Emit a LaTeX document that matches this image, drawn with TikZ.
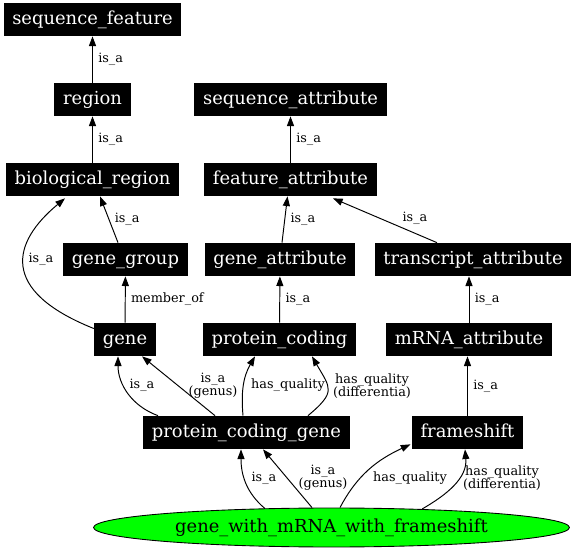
\documentclass[tikz,border=0pt]{standalone}
\usepackage{fontspec}
\setmainfont{DejaVu Serif}
\usepackage{tikz}
\usetikzlibrary{arrows.meta,positioning,calc,shapes.geometric}
\tikzset{
  % Black term box
  tbox/.style={rectangle,fill=black,text=white,
    inner xsep=5pt,inner ysep=0pt,minimum height=0.66cm,
    text height=7.4pt,text depth=2.2pt,font=\fontsize{10.2}{12}\selectfont},
  % Query term (green ellipse)
  qbox/.style={ellipse,draw=black,fill=green,line width=0.5pt,
    minimum width=9.52cm,minimum height=0.78cm,inner sep=0pt,
    font=\fontsize{10.2}{12}\selectfont},
  % Arrows
  arr/.style={-{Triangle[length=5.5pt,width=4pt]},line width=0.55pt,black},
  lbl/.style={font=\fontsize{7.3}{7.6}\selectfont,align=center,inner sep=1pt},
}
\begin{document}
\begin{tikzpicture}[x=0.02cm,y=0.02cm]
  \useasboundingbox (0,0) rectangle (576,-551);

  % Terms
  \node[tbox] (seqfeat)   at (92.5,-19.5)  {sequence\_feature};
  \node[tbox] (region)    at (92.5,-99.5)  {region};
  \node[tbox] (bioreg)    at (92.5,-179.5) {biological\_region};
  \node[tbox] (seqattr)   at (290.5,-99.5) {sequence\_attribute};
  \node[tbox] (featattr)  at (290.5,-179.5) {feature\_attribute};
  \node[tbox] (genegroup) at (125.5,-259.5) {gene\_group};
  \node[tbox] (geneattr)  at (280,-259.5)  {gene\_attribute};
  \node[tbox] (transattr) at (473,-259.5)  {transcript\_attribute};
  \node[tbox] (gene)      at (125,-339.5)  {gene};
  \node[tbox] (protcod)   at (279.5,-339.5) {protein\_coding};
  \node[tbox] (mrnaattr)  at (469,-339.5)  {mRNA\_attribute};
  \node[tbox] (pcg)       at (246.5,-432.5) {protein\_coding\_gene};
  \node[tbox] (frameshift) at (467.5,-432.5) {frameshift};
  \node[qbox] (gwmf)      at (331.5,-527.5) {gene\_with\_mRNA\_with\_frameshift};

  % Upper hierarchy
  \draw[arr] (region) -- node[lbl,right=2pt] {is\_a} (seqfeat);
  \draw[arr] (bioreg) -- node[lbl,right=2pt] {is\_a} (region);
  \draw[arr] (featattr) -- node[lbl,right=2pt] {is\_a} (seqattr);
  \draw[arr] ($(geneattr.north)+(2,0)$) -- node[lbl,right=2pt] {is\_a}
    ($(featattr.south)+(-3,0)$);
  \draw[arr] ($(transattr.north)+(-36,0)$) -- ($(featattr.south)+(42.5,-2)$);
  \node[lbl] (l-trans) at (415,-218) {is\_a};
  \draw[arr] ($(genegroup.north)+(-7.5,0)$) -- node[lbl,right=2pt] {is\_a}
    ($(bioreg.south)+(7.5,0)$);
  \draw[arr] ($(gene.west)+(0,11)$) .. controls +(-95,38) and +(-53,-44) ..
    ($(bioreg.south)+(-27.5,-2)$);
  \node[lbl] (l-gene) at (41,-259) {is\_a};
  \draw[arr] (gene) -- node[lbl,right=2pt] {member\_of} (genegroup);
  \draw[arr] (protcod) -- node[lbl,right=2pt] {is\_a} (geneattr);
  \draw[arr] (mrnaattr) -- node[lbl,right=2pt] {is\_a} (mrnaattr |- transattr.south);
  \draw[arr] (frameshift) -- node[lbl,right=2pt] {is\_a} (frameshift |- mrnaattr.south);

  % protein_coding_gene
  \draw[arr] ($(pcg.north)+(-88.5,0)$) to[out=160,in=-90] ($(gene.south)+(-7,0)$);
  \node[lbl] (l-pcg1) at (142,-385) {is\_a};
  \draw[arr] ($(pcg.north)+(-31.5,0)$) -- ($(gene.south)+(17,0)$);
  \node[lbl] (l-pcg2) at (213,-386) {is\_a\\(genus)};
  \draw[arr] ($(pcg.north)+(-3.5,0)$) to[out=95,in=-120] ($(protcod.south)+(-24.5,0)$);
  \node[lbl] (l-pcg3) at (288,-385) {has\_quality};
  \draw[arr] ($(pcg.north)+(61.5,0)$) to[out=40,in=-60,looseness=1.6]
    ($(protcod.south)+(32.5,0)$);
  \node[lbl] (l-pcg4) at (372,-386) {has\_quality\\(differentia)};

  % gene_with_mRNA_with_frameshift
  \draw[arr] ($(gwmf.north)+(-66.5,-1)$) to[out=140,in=-90] ($(pcg.south)+(-5.5,0)$);
  \node[lbl] (l-gw1) at (264,-478) {is\_a};
  \draw[arr] ($(gwmf.north)+(-19.5,0)$) -- ($(pcg.south)+(16.5,0)$);
  \node[lbl] (l-gw2) at (323,-478) {is\_a\\(genus)};
  \draw[arr] ($(gwmf.north)+(8.5,0)$) to[out=62,in=205] ($(frameshift.south west)+(-1,5)$);
  \node[lbl] (l-gw3) at (410,-478) {has\_quality};
  \draw[arr] ($(gwmf.north)+(90.5,-1.5)$) to[out=30,in=-85] ($(frameshift.south)+(-2.5,0)$);
  \node[lbl] (l-gw4) at (502,-478) {has\_quality\\(differentia)};
\end{tikzpicture}
\end{document}
